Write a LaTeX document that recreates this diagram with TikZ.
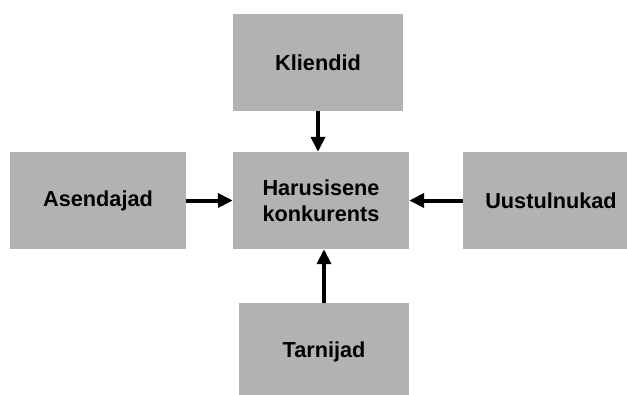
\documentclass[tikz,border=0pt]{standalone}
\usepackage{fontspec}
\setmainfont{Liberation Sans}
\usetikzlibrary{arrows.meta}

\begin{document}
\begin{tikzpicture}[x=1pt, y=-1pt,
  box/.style={fill=black!30, inner sep=0pt, minimum height=97pt,
    font=\fontsize{21.7}{26.5}\selectfont\bfseries, align=center},
  arr/.style={line width=4pt, -{Triangle[length=15pt,width=14pt]}},
]
  \useasboundingbox[fill=white] (0,0) rectangle (627,394);
  \node[box, minimum width=170pt] (kl)  at (318,62.5)  {Kliendid};
  \node[box, minimum width=176pt] (hk)  at (321,200.5) {Harusisene\\konkurents};
  \node[box, minimum width=176pt] (as)  at (98,200.5)  {Asendajad};
  \node[box, minimum width=176pt] (uu)  at (551,200.5) {Uustulnukad};
  \node[box, minimum width=170pt] (tar) at (324,351.5) {Tarnijad};
  % nooled
  \draw[arr] (kl.south) -- (kl |- hk.north);
  \draw[arr] (tar.north) -- (tar |- hk.south);
  \draw[arr] (as.east) -- (hk.west);
  \draw[arr] (uu.west) -- (hk.east);
\end{tikzpicture}
\end{document}
